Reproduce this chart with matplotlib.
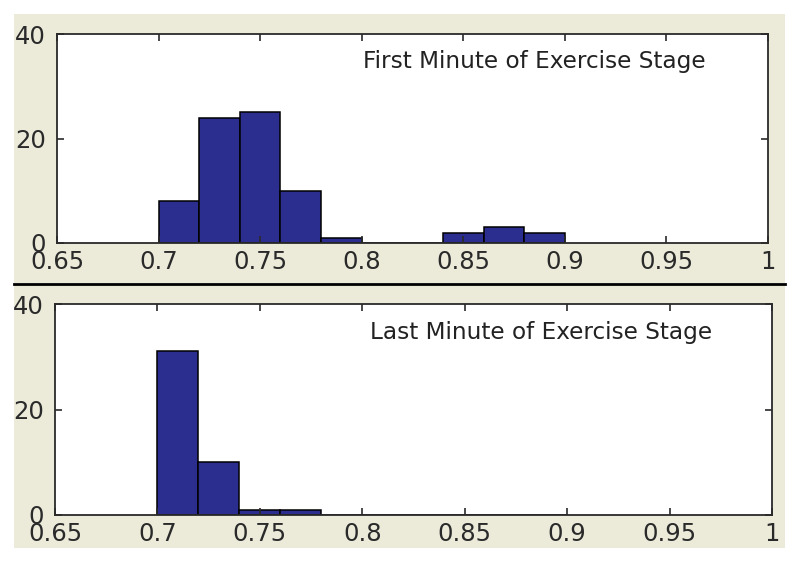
import matplotlib
matplotlib.use("Agg")
import matplotlib.pyplot as plt
from matplotlib.patches import Rectangle
from matplotlib.lines import Line2D

# histogram bins (left edges), width 0.02
bin_left = [0.70, 0.72, 0.74, 0.76, 0.78, 0.80, 0.82, 0.84, 0.86, 0.88]
first_counts = [8, 24, 25, 10, 1, 0, 0, 2, 3, 2]
last_counts = [31, 10, 1, 1, 0, 0, 0, 0, 0, 0]
bin_width = 0.02

x_ticks = [0.65, 0.7, 0.75, 0.8, 0.85, 0.9, 0.95, 1]
x_labels = ["0.65", "0.7", "0.75", "0.8", "0.85", "0.9", "0.95", "1"]
y_ticks = [0, 20, 40]

titles = ["First Minute of Exercise Stage", "Last Minute of Exercise Stage"]

W, H = 800, 564
bg = "#ecead9"
bar_color = "#2b2e8f"
dark = "#2a2a2a"

plt.rcParams['font.family'] = ['DejaVu Sans']

fig = plt.figure(figsize=(W / 100, H / 100), dpi=100, facecolor="white")


def fx(px):
    return px / W


def fy(py):
    return 1 - py / H


# beige panel backgrounds (behind the axes)
fig.patches.append(Rectangle((fx(14), fy(283)), fx(785) - fx(14), fy(14) - fy(283),
                             transform=fig.transFigure, facecolor=bg, edgecolor="none", zorder=-2))
fig.patches.append(Rectangle((fx(14), fy(548)), fx(785) - fx(14), fy(285) - fy(548),
                             transform=fig.transFigure, facecolor=bg, edgecolor="none", zorder=-2))
# separator line
fig.lines.append(Line2D([fx(14), fx(785)], [fy(284), fy(284)], transform=fig.transFigure,
                        color="black", linewidth=2.0, zorder=1))

boxes = [(57, 768, 34, 243), (55, 772, 304, 515)]
text_pos = [(363, 68), (370, 339)]
data = [first_counts, last_counts]

for (l, r, t, b), counts, title, (tx, ty) in zip(boxes, data, titles, text_pos):
    ax = fig.add_axes([fx(l), fy(b), fx(r) - fx(l), fy(t) - fy(b)])
    ax.set_facecolor("white")
    ax.bar(bin_left, counts, width=bin_width, align="edge",
           color=bar_color, edgecolor="black", linewidth=1.1)
    ax.set_xlim(0.65, 1)
    ax.set_ylim(0, 40)
    ax.set_xticks(x_ticks)
    ax.set_xticklabels(x_labels)
    ax.set_yticks(y_ticks)
    ax.tick_params(direction="in", top=True, right=True, length=5, width=1.2,
                   colors=dark, labelsize=17.5)
    ax.tick_params(axis="y", pad=8)
    ax.tick_params(axis="x", pad=5)
    for sp in ax.spines.values():
        sp.set_linewidth(1.3)
        sp.set_color(dark)
    fig.text(fx(tx), fy(ty), title, fontsize=16.7, color="#222222",
             ha="left", va="baseline", zorder=3)

fig.savefig("out.png", dpi=100, facecolor="white")
